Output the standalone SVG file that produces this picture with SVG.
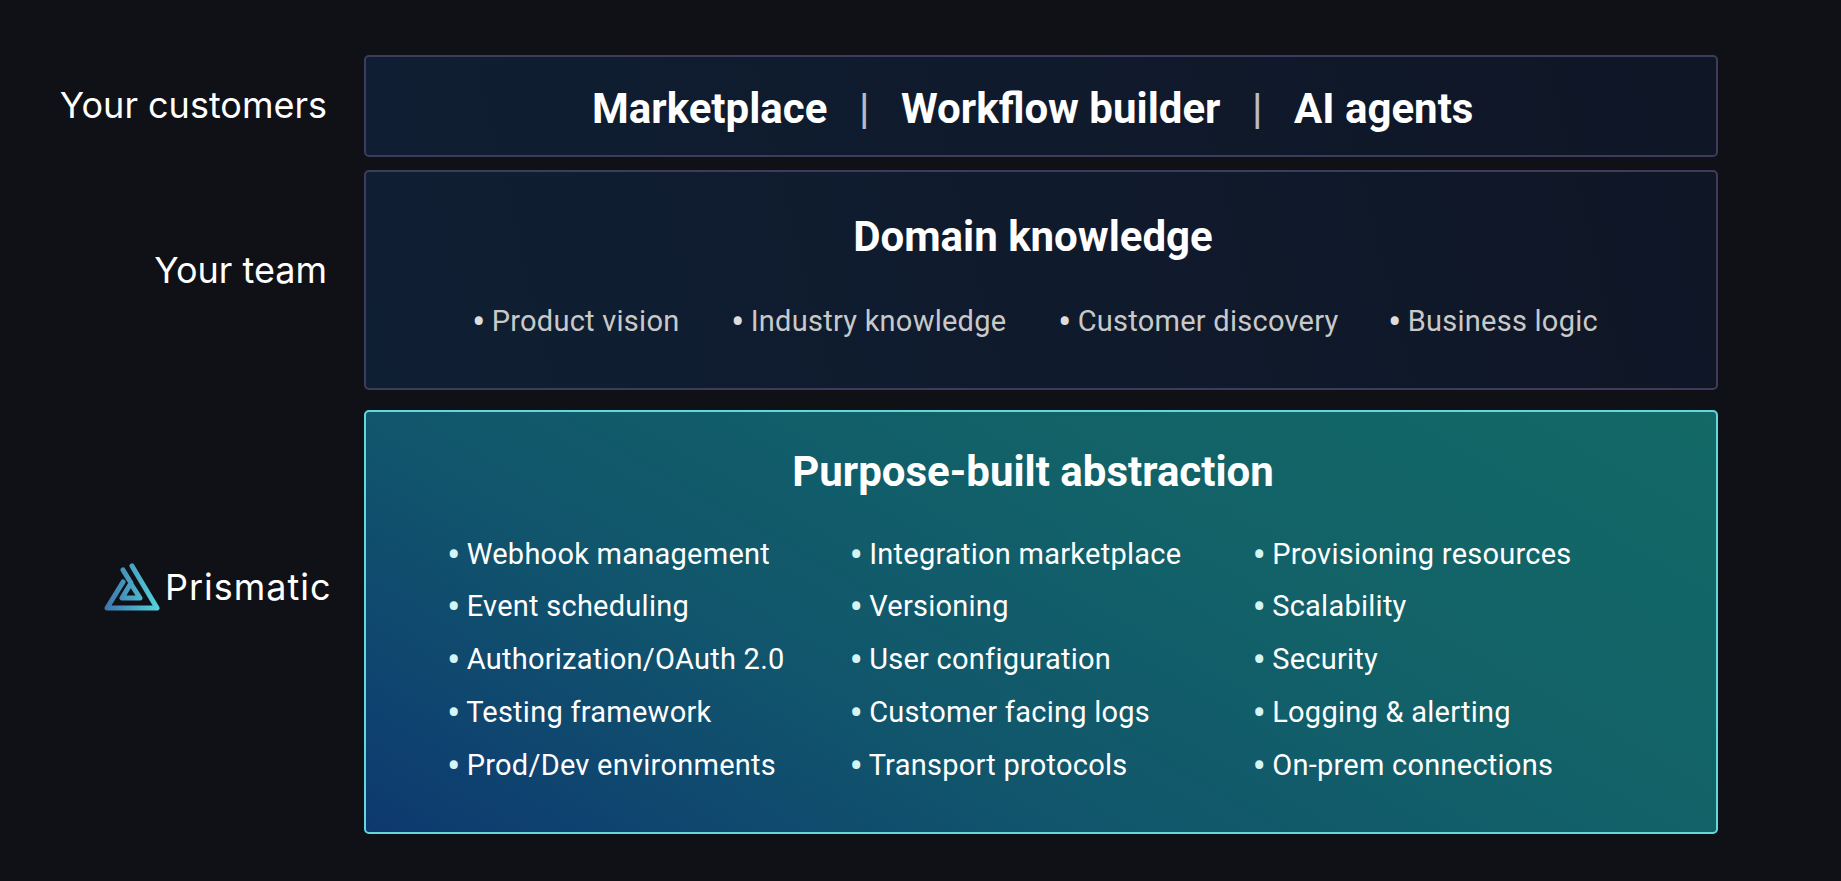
<svg xmlns="http://www.w3.org/2000/svg" width="1841" height="881" viewBox="0 0 1841 881">
<style>
text{font-family:Roboto,"Liberation Sans",sans-serif}
.side{font-size:36px;fill:#fff;text-anchor:end;font-family:Inter,Roboto,sans-serif}
.head{font-size:42px;font-weight:700;fill:#fff}
.sep{font-size:42px;fill:#b9bcc4;font-weight:500}
.li{font-size:29px;fill:#fff;letter-spacing:.25px}
.lg{font-size:29px;fill:#c9c9c9;letter-spacing:.25px}
.li .b{font-size:40px;fill:#d5f5f5}
.lg .b{font-size:40px;fill:#dddddd}
.dark{stroke:#3d3c5c;stroke-width:2}
.teal{stroke:#5fd9dc;stroke-width:2}
</style>
<defs>
<linearGradient id="g1" gradientUnits="userSpaceOnUse" x1="365" y1="390" x2="1717" y2="55"><stop offset="0" stop-color="#0f1f33"/><stop offset="1" stop-color="#0f1626"/></linearGradient>
<linearGradient id="g2" gradientUnits="userSpaceOnUse" x1="365" y1="834" x2="887" y2="-74"><stop offset="0" stop-color="#0d386f"/><stop offset=".15" stop-color="#0f466f"/><stop offset=".35" stop-color="#11566c"/><stop offset=".65" stop-color="#126268"/><stop offset="1" stop-color="#136966"/></linearGradient>
<linearGradient id="g3" gradientUnits="userSpaceOnUse" x1="106" y1="600" x2="158" y2="600"><stop offset="0" stop-color="#3f76ad"/><stop offset="1" stop-color="#54d3dc"/></linearGradient>
</defs>
<rect width="1841" height="881" fill="#101116"/>
<g id="connectors"/>
<g id="customers"><rect class="dark" x="365" y="56" width="1352" height="100" rx="4" fill="url(#g1)"/>
<text class="side" x="327" y="118">Your customers</text>
<text class="head" x="592" y="123">Marketplace</text><text class="sep" x="859" y="123">|</text><text class="head" x="901" y="123">Workflow builder</text><text class="sep" x="1252" y="123">|</text><text class="head" x="1294" y="123">AI agents</text></g>
<g id="team"><rect class="dark" x="365" y="171" width="1352" height="218" rx="4" fill="url(#g1)"/>
<text class="side" x="327" y="283">Your team</text>
<text class="head" x="1033" y="251" text-anchor="middle">Domain knowledge</text>
<text class="lg" x="472" y="331"><tspan class="b" dy="5">•</tspan><tspan dx="-1.5" dy="-5"> Product vision</tspan></text><text class="lg" x="731" y="331"><tspan class="b" dy="5">•</tspan><tspan dx="-1.5" dy="-5"> Industry knowledge</tspan></text><text class="lg" x="1058" y="331"><tspan class="b" dy="5">•</tspan><tspan dx="-1.5" dy="-5"> Customer discovery</tspan></text><text class="lg" x="1388" y="331"><tspan class="b" dy="5">•</tspan><tspan dx="-1.5" dy="-5"> Business logic</tspan></text></g>
<g id="prismatic"><rect class="teal" x="365" y="411" width="1352" height="422" rx="4" fill="url(#g2)"/>
<g fill="none" stroke="url(#g3)" stroke-width="5" stroke-linejoin="round" stroke-linecap="round"><path d="M132 566L157 608H107L123 582"/><path d="M123 570L131 583L122 598H140L131 584"/></g>
<text x="165" y="600" font-size="36" fill="#fff" style="font-family:Inter,Lato,sans-serif;font-weight:400" letter-spacing="1">Prismatic</text>
<text class="head" x="1033" y="486" text-anchor="middle">Purpose-built abstraction</text>
<text class="li" x="447" y="564"><tspan class="b" dy="5">•</tspan><tspan dx="-1.5" dy="-5"> Webhook management</tspan></text>
<text class="li" x="447" y="616"><tspan class="b" dy="5">•</tspan><tspan dx="-1.5" dy="-5"> Event scheduling</tspan></text>
<text class="li" x="447" y="669"><tspan class="b" dy="5">•</tspan><tspan dx="-1.5" dy="-5"> Authorization/OAuth 2.0</tspan></text>
<text class="li" x="447" y="722"><tspan class="b" dy="5">•</tspan><tspan dx="-1.5" dy="-5"> Testing framework</tspan></text>
<text class="li" x="447" y="775"><tspan class="b" dy="5">•</tspan><tspan dx="-1.5" dy="-5"> Prod/Dev environments</tspan></text>
<text class="li" x="849.5" y="564"><tspan class="b" dy="5">•</tspan><tspan dx="-1.5" dy="-5"> Integration marketplace</tspan></text>
<text class="li" x="849.5" y="616"><tspan class="b" dy="5">•</tspan><tspan dx="-1.5" dy="-5"> Versioning</tspan></text>
<text class="li" x="849.5" y="669"><tspan class="b" dy="5">•</tspan><tspan dx="-1.5" dy="-5"> User configuration</tspan></text>
<text class="li" x="849.5" y="722"><tspan class="b" dy="5">•</tspan><tspan dx="-1.5" dy="-5"> Customer facing logs</tspan></text>
<text class="li" x="849.5" y="775"><tspan class="b" dy="5">•</tspan><tspan dx="-1.5" dy="-5"> Transport protocols</tspan></text>
<text class="li" x="1252.5" y="564"><tspan class="b" dy="5">•</tspan><tspan dx="-1.5" dy="-5"> Provisioning resources</tspan></text>
<text class="li" x="1252.5" y="616"><tspan class="b" dy="5">•</tspan><tspan dx="-1.5" dy="-5"> Scalability</tspan></text>
<text class="li" x="1252.5" y="669"><tspan class="b" dy="5">•</tspan><tspan dx="-1.5" dy="-5"> Security</tspan></text>
<text class="li" x="1252.5" y="722"><tspan class="b" dy="5">•</tspan><tspan dx="-1.5" dy="-5"> Logging &amp; alerting</tspan></text>
<text class="li" x="1252.5" y="775"><tspan class="b" dy="5">•</tspan><tspan dx="-1.5" dy="-5"> On-prem connections</tspan></text></g>
</svg>
